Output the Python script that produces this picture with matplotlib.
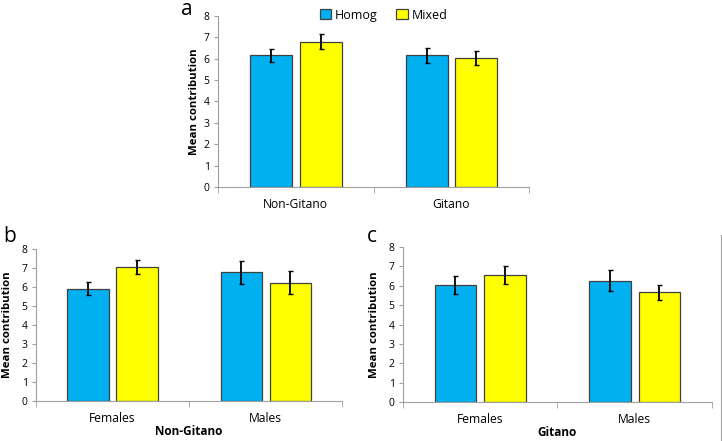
import matplotlib.pyplot as plt
import numpy as np

plt.rcParams['font.family'] = ['Open Sans', 'DejaVu Sans']

# data
groups_a = ['Non-Gitano', 'Gitano']
homog_a = [6.15, 6.15]
homog_a_err = [0.30, 0.36]
mixed_a = [6.80, 6.03]
mixed_a_err = [0.34, 0.32]

sexes = ['Females', 'Males']
homog_b = [5.92, 6.78]
homog_b_err = [0.35, 0.62]
mixed_b = [7.07, 6.23]
mixed_b_err = [0.36, 0.60]

homog_c = [6.04, 6.25]
homog_c_err = [0.45, 0.54]
mixed_c = [6.57, 5.67]
mixed_c_err = [0.46, 0.38]

blue = '#00b0f0'
yellow = '#ffff00'
edge = '#404040'

fig = plt.figure(figsize=(7.22, 4.41), dpi=100)
ax_a = fig.add_axes([0.302, 0.576, 0.431, 0.388])
ax_b = fig.add_axes([0.050, 0.091, 0.424, 0.344])
ax_c = fig.add_axes([0.558, 0.088, 0.428, 0.352])


def draw(ax, cats, h, he, m, me, xlabel=None, ypad=3):
    x = np.arange(len(cats))
    w = 0.27
    bh = ax.bar(x - 0.16, h, w, color=blue, edgecolor=edge, linewidth=0.9, label='Homog')
    bm = ax.bar(x + 0.16, m, w, color=yellow, edgecolor=edge, linewidth=0.9, label='Mixed')
    ax.errorbar(x - 0.16, h, yerr=he, fmt='none', ecolor='black', elinewidth=1.3, capsize=1.8, capthick=1.0)
    ax.errorbar(x + 0.16, m, yerr=me, fmt='none', ecolor='black', elinewidth=1.3, capsize=1.8, capthick=1.0)
    ax.set_xlim(-0.5, len(cats) - 0.5)
    ax.set_ylim(0, 8)
    ax.set_yticks(range(9))
    ax.set_xticks(x)
    ax.set_xticklabels(cats, fontsize=8.7)
    ax.set_xticks(np.arange(-0.5, len(cats)), minor=True)
    ax.tick_params(axis='x', which='major', length=0, pad=8)
    ax.tick_params(axis='x', which='minor', length=4, color='#a0a0a0', direction='out')
    ax.tick_params(axis='y', labelsize=7.5, length=3, color='#a0a0a0', pad=3)
    for s in ['top', 'right']:
        ax.spines[s].set_visible(False)
    for s in ['left', 'bottom']:
        ax.spines[s].set_color('#a0a0a0')
        ax.spines[s].set_linewidth(0.8)
    ax.set_ylabel('Mean contribution', fontsize=8.2, fontweight='bold', labelpad=ypad)
    if xlabel:
        ax.set_xlabel(xlabel, fontsize=8.5, fontweight='bold', labelpad=0)
    return bh, bm


bh, bm = draw(ax_a, groups_a, homog_a, homog_a_err, mixed_a, mixed_a_err)
draw(ax_b, sexes, homog_b, homog_b_err, mixed_b, mixed_b_err, 'Non-Gitano', ypad=6)
draw(ax_c, sexes, homog_c, homog_c_err, mixed_c, mixed_c_err, 'Gitano', ypad=6)

ax_a.legend(handles=[bh, bm], loc='lower center', bbox_to_anchor=(0.532, 0.93), ncol=2,
            frameon=False, fontsize=9, handlelength=0.9, handleheight=0.9,
            handletextpad=0.3, columnspacing=1.5, borderpad=0)

fig.text(0.259, 0.978, 'a', fontsize=15, ha='center', va='center')
fig.text(0.014, 0.463, 'b', fontsize=15, ha='center', va='center')
fig.text(0.515, 0.463, 'c', fontsize=15, ha='center', va='center')

fig.add_artist(plt.Line2D([0.9985, 0.9985], [0.0, 0.467], transform=fig.transFigure, color='#a0a0a0', lw=0.8))

fig.savefig('out.png', dpi=100)
